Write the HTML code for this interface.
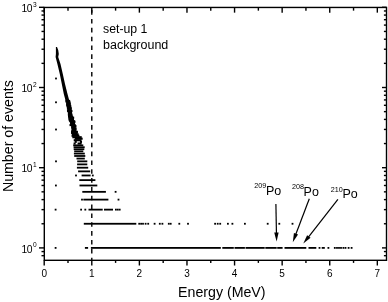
<!DOCTYPE html>
<html><head><meta charset="utf-8"><style>
html,body{margin:0;padding:0;background:#fff;}
body{width:388px;height:302px;position:relative;overflow:hidden;}
svg{position:absolute;left:0;top:0;font-family:"Liberation Sans",sans-serif;filter:blur(0.3px);}
</style></head><body>
<svg width="388" height="302" viewBox="0 0 388 302" fill="#000" font-family="Liberation Sans, sans-serif">
<rect x="44.3" y="7.45" width="342.20" height="252.85" fill="none" stroke="#000" stroke-width="1.4"/>
<line x1="44.20" y1="260.30" x2="44.20" y2="265.50" stroke="#000" stroke-width="1.4" />
<line x1="44.20" y1="7.45" x2="44.20" y2="12.65" stroke="#000" stroke-width="1.4" />
<line x1="91.79" y1="260.30" x2="91.79" y2="265.50" stroke="#000" stroke-width="1.4" />
<line x1="91.79" y1="7.45" x2="91.79" y2="12.65" stroke="#000" stroke-width="1.4" />
<line x1="139.38" y1="260.30" x2="139.38" y2="265.50" stroke="#000" stroke-width="1.4" />
<line x1="139.38" y1="7.45" x2="139.38" y2="12.65" stroke="#000" stroke-width="1.4" />
<line x1="186.97" y1="260.30" x2="186.97" y2="265.50" stroke="#000" stroke-width="1.4" />
<line x1="186.97" y1="7.45" x2="186.97" y2="12.65" stroke="#000" stroke-width="1.4" />
<line x1="234.56" y1="260.30" x2="234.56" y2="265.50" stroke="#000" stroke-width="1.4" />
<line x1="234.56" y1="7.45" x2="234.56" y2="12.65" stroke="#000" stroke-width="1.4" />
<line x1="282.15" y1="260.30" x2="282.15" y2="265.50" stroke="#000" stroke-width="1.4" />
<line x1="282.15" y1="7.45" x2="282.15" y2="12.65" stroke="#000" stroke-width="1.4" />
<line x1="329.74" y1="260.30" x2="329.74" y2="265.50" stroke="#000" stroke-width="1.4" />
<line x1="329.74" y1="7.45" x2="329.74" y2="12.65" stroke="#000" stroke-width="1.4" />
<line x1="377.33" y1="260.30" x2="377.33" y2="265.50" stroke="#000" stroke-width="1.4" />
<line x1="377.33" y1="7.45" x2="377.33" y2="12.65" stroke="#000" stroke-width="1.4" />
<line x1="68.00" y1="260.30" x2="68.00" y2="262.90" stroke="#000" stroke-width="1.4" />
<line x1="68.00" y1="7.45" x2="68.00" y2="10.65" stroke="#000" stroke-width="1.4" />
<line x1="115.59" y1="260.30" x2="115.59" y2="262.90" stroke="#000" stroke-width="1.4" />
<line x1="115.59" y1="7.45" x2="115.59" y2="10.65" stroke="#000" stroke-width="1.4" />
<line x1="163.18" y1="260.30" x2="163.18" y2="262.90" stroke="#000" stroke-width="1.4" />
<line x1="163.18" y1="7.45" x2="163.18" y2="10.65" stroke="#000" stroke-width="1.4" />
<line x1="210.76" y1="260.30" x2="210.76" y2="262.90" stroke="#000" stroke-width="1.4" />
<line x1="210.76" y1="7.45" x2="210.76" y2="10.65" stroke="#000" stroke-width="1.4" />
<line x1="258.36" y1="260.30" x2="258.36" y2="262.90" stroke="#000" stroke-width="1.4" />
<line x1="258.36" y1="7.45" x2="258.36" y2="10.65" stroke="#000" stroke-width="1.4" />
<line x1="305.94" y1="260.30" x2="305.94" y2="262.90" stroke="#000" stroke-width="1.4" />
<line x1="305.94" y1="7.45" x2="305.94" y2="10.65" stroke="#000" stroke-width="1.4" />
<line x1="353.54" y1="260.30" x2="353.54" y2="262.90" stroke="#000" stroke-width="1.4" />
<line x1="353.54" y1="7.45" x2="353.54" y2="10.65" stroke="#000" stroke-width="1.4" />
<line x1="39.00" y1="247.90" x2="44.30" y2="247.90" stroke="#000" stroke-width="1.4" />
<line x1="386.50" y1="247.90" x2="382.00" y2="247.90" stroke="#000" stroke-width="1.4" />
<line x1="39.00" y1="167.70" x2="44.30" y2="167.70" stroke="#000" stroke-width="1.4" />
<line x1="386.50" y1="167.70" x2="382.00" y2="167.70" stroke="#000" stroke-width="1.4" />
<line x1="39.00" y1="87.50" x2="44.30" y2="87.50" stroke="#000" stroke-width="1.4" />
<line x1="386.50" y1="87.50" x2="382.00" y2="87.50" stroke="#000" stroke-width="1.4" />
<line x1="39.00" y1="7.30" x2="44.30" y2="7.30" stroke="#000" stroke-width="1.4" />
<line x1="386.50" y1="7.30" x2="382.00" y2="7.30" stroke="#000" stroke-width="1.4" />
<line x1="41.50" y1="255.67" x2="44.30" y2="255.67" stroke="#000" stroke-width="1.4" />
<line x1="386.50" y1="255.67" x2="383.90" y2="255.67" stroke="#000" stroke-width="1.4" />
<line x1="41.50" y1="251.57" x2="44.30" y2="251.57" stroke="#000" stroke-width="1.4" />
<line x1="386.50" y1="251.57" x2="383.90" y2="251.57" stroke="#000" stroke-width="1.4" />
<line x1="41.50" y1="223.76" x2="44.30" y2="223.76" stroke="#000" stroke-width="1.4" />
<line x1="386.50" y1="223.76" x2="383.90" y2="223.76" stroke="#000" stroke-width="1.4" />
<line x1="41.50" y1="209.63" x2="44.30" y2="209.63" stroke="#000" stroke-width="1.4" />
<line x1="386.50" y1="209.63" x2="383.90" y2="209.63" stroke="#000" stroke-width="1.4" />
<line x1="41.50" y1="199.61" x2="44.30" y2="199.61" stroke="#000" stroke-width="1.4" />
<line x1="386.50" y1="199.61" x2="383.90" y2="199.61" stroke="#000" stroke-width="1.4" />
<line x1="41.50" y1="191.84" x2="44.30" y2="191.84" stroke="#000" stroke-width="1.4" />
<line x1="386.50" y1="191.84" x2="383.90" y2="191.84" stroke="#000" stroke-width="1.4" />
<line x1="41.50" y1="185.49" x2="44.30" y2="185.49" stroke="#000" stroke-width="1.4" />
<line x1="386.50" y1="185.49" x2="383.90" y2="185.49" stroke="#000" stroke-width="1.4" />
<line x1="41.50" y1="180.12" x2="44.30" y2="180.12" stroke="#000" stroke-width="1.4" />
<line x1="386.50" y1="180.12" x2="383.90" y2="180.12" stroke="#000" stroke-width="1.4" />
<line x1="41.50" y1="175.47" x2="44.30" y2="175.47" stroke="#000" stroke-width="1.4" />
<line x1="386.50" y1="175.47" x2="383.90" y2="175.47" stroke="#000" stroke-width="1.4" />
<line x1="41.50" y1="171.37" x2="44.30" y2="171.37" stroke="#000" stroke-width="1.4" />
<line x1="386.50" y1="171.37" x2="383.90" y2="171.37" stroke="#000" stroke-width="1.4" />
<line x1="41.50" y1="143.56" x2="44.30" y2="143.56" stroke="#000" stroke-width="1.4" />
<line x1="386.50" y1="143.56" x2="383.90" y2="143.56" stroke="#000" stroke-width="1.4" />
<line x1="41.50" y1="129.43" x2="44.30" y2="129.43" stroke="#000" stroke-width="1.4" />
<line x1="386.50" y1="129.43" x2="383.90" y2="129.43" stroke="#000" stroke-width="1.4" />
<line x1="41.50" y1="119.41" x2="44.30" y2="119.41" stroke="#000" stroke-width="1.4" />
<line x1="386.50" y1="119.41" x2="383.90" y2="119.41" stroke="#000" stroke-width="1.4" />
<line x1="41.50" y1="111.64" x2="44.30" y2="111.64" stroke="#000" stroke-width="1.4" />
<line x1="386.50" y1="111.64" x2="383.90" y2="111.64" stroke="#000" stroke-width="1.4" />
<line x1="41.50" y1="105.29" x2="44.30" y2="105.29" stroke="#000" stroke-width="1.4" />
<line x1="386.50" y1="105.29" x2="383.90" y2="105.29" stroke="#000" stroke-width="1.4" />
<line x1="41.50" y1="99.92" x2="44.30" y2="99.92" stroke="#000" stroke-width="1.4" />
<line x1="386.50" y1="99.92" x2="383.90" y2="99.92" stroke="#000" stroke-width="1.4" />
<line x1="41.50" y1="95.27" x2="44.30" y2="95.27" stroke="#000" stroke-width="1.4" />
<line x1="386.50" y1="95.27" x2="383.90" y2="95.27" stroke="#000" stroke-width="1.4" />
<line x1="41.50" y1="91.17" x2="44.30" y2="91.17" stroke="#000" stroke-width="1.4" />
<line x1="386.50" y1="91.17" x2="383.90" y2="91.17" stroke="#000" stroke-width="1.4" />
<line x1="41.50" y1="63.36" x2="44.30" y2="63.36" stroke="#000" stroke-width="1.4" />
<line x1="386.50" y1="63.36" x2="383.90" y2="63.36" stroke="#000" stroke-width="1.4" />
<line x1="41.50" y1="49.23" x2="44.30" y2="49.23" stroke="#000" stroke-width="1.4" />
<line x1="386.50" y1="49.23" x2="383.90" y2="49.23" stroke="#000" stroke-width="1.4" />
<line x1="41.50" y1="39.21" x2="44.30" y2="39.21" stroke="#000" stroke-width="1.4" />
<line x1="386.50" y1="39.21" x2="383.90" y2="39.21" stroke="#000" stroke-width="1.4" />
<line x1="41.50" y1="31.44" x2="44.30" y2="31.44" stroke="#000" stroke-width="1.4" />
<line x1="386.50" y1="31.44" x2="383.90" y2="31.44" stroke="#000" stroke-width="1.4" />
<line x1="41.50" y1="25.09" x2="44.30" y2="25.09" stroke="#000" stroke-width="1.4" />
<line x1="386.50" y1="25.09" x2="383.90" y2="25.09" stroke="#000" stroke-width="1.4" />
<line x1="41.50" y1="19.72" x2="44.30" y2="19.72" stroke="#000" stroke-width="1.4" />
<line x1="386.50" y1="19.72" x2="383.90" y2="19.72" stroke="#000" stroke-width="1.4" />
<line x1="41.50" y1="15.07" x2="44.30" y2="15.07" stroke="#000" stroke-width="1.4" />
<line x1="386.50" y1="15.07" x2="383.90" y2="15.07" stroke="#000" stroke-width="1.4" />
<line x1="41.50" y1="10.97" x2="44.30" y2="10.97" stroke="#000" stroke-width="1.4" />
<line x1="386.50" y1="10.97" x2="383.90" y2="10.97" stroke="#000" stroke-width="1.4" />
<line x1="91.79" y1="7.45" x2="91.79" y2="260.3" stroke="#000" stroke-width="1.4" stroke-dasharray="4.6 4.24" stroke-dashoffset="6.18"/>
<polygon points="55.9,47.0 55.9,54.0 55.6,57.0 57.4,64.0 59.8,74.0 61.8,84.0 63.8,94.0 65.7,100.9 69.4,100.9 67.5,94.0 65.0,84.0 62.8,74.0 60.5,64.0 58.2,57.0 58.8,54.0 58.2,50.0 57.0,47.0"/>
<rect x="73.58" y="142.51" width="2.10" height="2.1"/>
<rect x="77.56" y="142.51" width="4.09" height="2.1"/>
<rect x="74.69" y="140.81" width="2.10" height="2.1"/>
<rect x="79.91" y="140.81" width="2.10" height="2.1"/>
<rect x="73.71" y="139.19" width="7.77" height="2.1"/>
<rect x="74.74" y="137.64" width="7.93" height="2.1"/>
<rect x="72.31" y="136.16" width="9.42" height="2.1"/>
<rect x="71.57" y="134.74" width="7.82" height="2.1"/>
<rect x="71.92" y="133.37" width="6.79" height="2.1"/>
<rect x="71.07" y="132.05" width="6.63" height="2.1"/>
<rect x="71.06" y="130.79" width="6.88" height="2.1"/>
<rect x="71.29" y="129.57" width="5.09" height="2.1"/>
<rect x="71.78" y="128.38" width="4.74" height="2.1"/>
<rect x="71.32" y="127.24" width="5.17" height="2.1"/>
<rect x="71.15" y="126.14" width="4.54" height="2.1"/>
<rect x="71.23" y="125.07" width="5.25" height="2.1"/>
<rect x="69.51" y="124.03" width="6.21" height="2.1"/>
<rect x="70.20" y="123.02" width="4.80" height="2.1"/>
<rect x="70.18" y="122.03" width="4.46" height="2.1"/>
<rect x="70.06" y="121.08" width="5.33" height="2.1"/>
<rect x="69.18" y="120.15" width="6.02" height="2.1"/>
<rect x="68.87" y="119.25" width="5.15" height="2.1"/>
<rect x="68.42" y="118.36" width="5.59" height="2.1"/>
<rect x="69.25" y="117.50" width="4.64" height="2.1"/>
<rect x="68.23" y="116.67" width="5.94" height="2.1"/>
<rect x="68.58" y="115.85" width="4.64" height="2.1"/>
<rect x="68.00" y="115.05" width="4.52" height="2.1"/>
<rect x="68.27" y="114.26" width="3.99" height="2.1"/>
<rect x="67.82" y="113.50" width="4.65" height="2.1"/>
<rect x="68.42" y="112.75" width="3.54" height="2.1"/>
<rect x="67.94" y="112.01" width="3.82" height="2.1"/>
<rect x="67.95" y="111.30" width="4.15" height="2.1"/>
<rect x="67.65" y="110.59" width="3.98" height="2.1"/>
<rect x="67.08" y="109.90" width="5.36" height="2.1"/>
<rect x="66.96" y="109.23" width="4.73" height="2.1"/>
<rect x="67.78" y="108.56" width="3.39" height="2.1"/>
<rect x="67.76" y="107.91" width="3.64" height="2.1"/>
<rect x="66.88" y="107.27" width="4.77" height="2.1"/>
<rect x="67.58" y="106.65" width="3.93" height="2.1"/>
<rect x="67.07" y="106.03" width="3.66" height="2.1"/>
<rect x="66.62" y="105.42" width="3.83" height="2.1"/>
<rect x="66.75" y="104.83" width="4.52" height="2.1"/>
<rect x="66.53" y="104.24" width="3.60" height="2.1"/>
<rect x="66.20" y="103.67" width="4.37" height="2.1"/>
<rect x="66.48" y="103.10" width="4.00" height="2.1"/>
<rect x="66.63" y="102.54" width="4.08" height="2.1"/>
<rect x="66.28" y="101.99" width="3.28" height="2.1"/>
<rect x="66.58" y="101.45" width="3.94" height="2.1"/>
<rect x="66.64" y="100.92" width="3.39" height="2.1"/>
<rect x="65.38" y="100.40" width="4.76" height="2.1"/>
<rect x="66.18" y="99.88" width="3.92" height="2.1"/>
<rect x="65.65" y="99.37" width="3.12" height="2.1"/>
<rect x="73.20" y="144.44" width="10.10" height="1.8"/>
<rect x="73.60" y="146.33" width="11.10" height="1.8"/>
<rect x="73.70" y="148.32" width="10.60" height="1.8"/>
<rect x="74.20" y="150.43" width="9.10" height="1.8"/>
<rect x="73.90" y="152.68" width="10.90" height="1.8"/>
<rect x="74.20" y="155.08" width="11.10" height="1.8"/>
<rect x="76.50" y="157.66" width="8.30" height="1.8"/>
<rect x="77.20" y="160.45" width="10.10" height="1.8"/>
<rect x="77.10" y="163.48" width="10.20" height="1.8"/>
<rect x="76.90" y="166.80" width="11.30" height="1.8"/>
<rect x="78.10" y="170.47" width="12.10" height="1.8"/>
<rect x="75.10" y="174.57" width="1.8" height="1.8"/>
<rect x="81.60" y="174.57" width="9.00" height="1.8"/>
<rect x="91.90" y="174.57" width="1.8" height="1.8"/>
<rect x="79.30" y="179.22" width="16.10" height="1.8"/>
<rect x="55.00" y="184.59" width="1.8" height="1.8"/>
<rect x="79.50" y="184.59" width="17.80" height="1.8"/>
<rect x="82.30" y="190.94" width="23.60" height="1.8"/>
<rect x="114.70" y="190.94" width="1.8" height="1.8"/>
<rect x="81.10" y="198.71" width="1.8" height="1.8"/>
<rect x="83.30" y="198.71" width="25.10" height="1.8"/>
<rect x="117.60" y="198.71" width="1.8" height="1.8"/>
<rect x="54.70" y="208.73" width="1.8" height="1.8"/>
<rect x="80.20" y="208.73" width="1.8" height="1.8"/>
<rect x="84.40" y="208.73" width="1.8" height="1.8"/>
<rect x="88.50" y="208.73" width="14.20" height="1.8"/>
<rect x="104.00" y="208.73" width="9.00" height="1.8"/>
<rect x="115.00" y="208.73" width="1.8" height="1.8"/>
<rect x="116.90" y="208.73" width="1.8" height="1.8"/>
<rect x="118.80" y="208.73" width="1.8" height="1.8"/>
<rect x="83.80" y="222.86" width="52.50" height="1.8"/>
<rect x="138.30" y="222.86" width="1.8" height="1.8"/>
<rect x="140.20" y="222.86" width="1.8" height="1.8"/>
<rect x="142.10" y="222.86" width="1.8" height="1.8"/>
<rect x="144.70" y="222.86" width="1.8" height="1.8"/>
<rect x="147.30" y="222.86" width="1.8" height="1.8"/>
<rect x="153.70" y="222.86" width="1.8" height="1.8"/>
<rect x="158.90" y="222.86" width="1.8" height="1.8"/>
<rect x="161.50" y="222.86" width="1.8" height="1.8"/>
<rect x="167.90" y="222.86" width="1.8" height="1.8"/>
<rect x="169.80" y="222.86" width="1.8" height="1.8"/>
<rect x="178.40" y="222.86" width="1.8" height="1.8"/>
<rect x="187.10" y="222.86" width="1.8" height="1.8"/>
<rect x="214.20" y="222.86" width="1.8" height="1.8"/>
<rect x="216.80" y="222.86" width="1.8" height="1.8"/>
<rect x="219.30" y="222.86" width="1.8" height="1.8"/>
<rect x="227.00" y="222.86" width="1.8" height="1.8"/>
<rect x="231.50" y="222.86" width="1.8" height="1.8"/>
<rect x="244.00" y="222.86" width="1.8" height="1.8"/>
<rect x="266.80" y="222.86" width="1.8" height="1.8"/>
<rect x="278.40" y="222.86" width="1.8" height="1.8"/>
<rect x="291.60" y="222.86" width="1.8" height="1.8"/>
<rect x="54.70" y="247.00" width="1.8" height="1.8"/>
<rect x="84.90" y="247.00" width="3.20" height="1.8"/>
<rect x="90.90" y="247.00" width="129.90" height="1.8"/>
<rect x="222.30" y="247.00" width="11.50" height="1.8"/>
<rect x="234.50" y="247.00" width="10.40" height="1.8"/>
<rect x="245.50" y="247.00" width="19.20" height="1.8"/>
<rect x="265.30" y="247.00" width="11.40" height="1.8"/>
<rect x="277.20" y="247.00" width="5.40" height="1.8"/>
<rect x="284.50" y="247.00" width="21.80" height="1.8"/>
<rect x="308.50" y="247.00" width="7.80" height="1.8"/>
<rect x="318.60" y="247.00" width="1.8" height="1.8"/>
<rect x="321.70" y="247.00" width="3.10" height="1.8"/>
<rect x="327.50" y="247.00" width="1.8" height="1.8"/>
<rect x="333.90" y="247.00" width="1.8" height="1.8"/>
<rect x="336.10" y="247.00" width="1.8" height="1.8"/>
<rect x="338.10" y="247.00" width="1.8" height="1.8"/>
<rect x="340.10" y="247.00" width="1.8" height="1.8"/>
<rect x="342.50" y="247.00" width="1.8" height="1.8"/>
<rect x="344.60" y="247.00" width="1.8" height="1.8"/>
<rect x="347.70" y="247.00" width="1.8" height="1.8"/>
<rect x="350.70" y="247.00" width="1.8" height="1.8"/>
<rect x="55.10" y="77.60" width="1.8" height="1.8"/>
<rect x="55.10" y="101.40" width="1.8" height="1.8"/>
<rect x="55.10" y="128.60" width="1.8" height="1.8"/>
<rect x="55.10" y="160.45" width="1.8" height="1.8"/>
<line x1="275.90" y1="203.90" x2="276.45" y2="233.50" stroke="#000" stroke-width="1.2"/>
<polygon points="276.60,241.50 274.23,232.54 278.63,232.46"/>
<line x1="309.30" y1="198.80" x2="295.64" y2="234.72" stroke="#000" stroke-width="1.2"/>
<polygon points="292.80,242.20 293.94,233.01 298.05,234.57"/>
<line x1="337.90" y1="199.30" x2="308.22" y2="237.30" stroke="#000" stroke-width="1.2"/>
<polygon points="303.30,243.60 307.11,235.15 310.57,237.86"/>
<text x="44.20" y="277.00" font-size="10" text-anchor="middle" >0</text>
<text x="91.79" y="277.00" font-size="10" text-anchor="middle" >1</text>
<text x="139.38" y="277.00" font-size="10" text-anchor="middle" >2</text>
<text x="186.97" y="277.00" font-size="10" text-anchor="middle" >3</text>
<text x="234.56" y="277.00" font-size="10" text-anchor="middle" >4</text>
<text x="282.15" y="277.00" font-size="10" text-anchor="middle" >5</text>
<text x="329.74" y="277.00" font-size="10" text-anchor="middle" >6</text>
<text x="377.33" y="277.00" font-size="10" text-anchor="middle" >7</text>
<text x="31.90" y="252.50" font-size="10.3" text-anchor="end" letter-spacing="-0.5">10</text>
<text x="32.90" y="247.20" font-size="6.6" text-anchor="start" >0</text>
<text x="31.90" y="172.30" font-size="10.3" text-anchor="end" letter-spacing="-0.5">10</text>
<text x="32.90" y="167.00" font-size="6.6" text-anchor="start" >1</text>
<text x="31.90" y="92.10" font-size="10.3" text-anchor="end" letter-spacing="-0.5">10</text>
<text x="32.90" y="86.80" font-size="6.6" text-anchor="start" >2</text>
<text x="31.90" y="11.90" font-size="10.3" text-anchor="end" letter-spacing="-0.5">10</text>
<text x="32.90" y="6.60" font-size="6.6" text-anchor="start" >3</text>
<text x="221.80" y="297.30" font-size="14.2" text-anchor="middle" >Energy (MeV)</text>
<text transform="translate(12.8,136.1) rotate(-90)" font-size="14.2" text-anchor="middle">Number of events</text>
<text x="103.00" y="33.20" font-size="12.3" text-anchor="start" >set-up 1</text>
<text x="103.00" y="49.40" font-size="12.5" text-anchor="start" >background</text>
<text x="254.20" y="188.10" font-size="7.2" text-anchor="start" >209</text>
<text x="266.00" y="194.90" font-size="12.5" text-anchor="start" >Po</text>
<text x="292.10" y="189.00" font-size="7.2" text-anchor="start" >208</text>
<text x="303.60" y="195.50" font-size="12.5" text-anchor="start" >Po</text>
<text x="330.80" y="192.10" font-size="7.2" text-anchor="start" >210</text>
<text x="342.50" y="197.90" font-size="12.5" text-anchor="start" >Po</text>
</svg>
</body></html>
